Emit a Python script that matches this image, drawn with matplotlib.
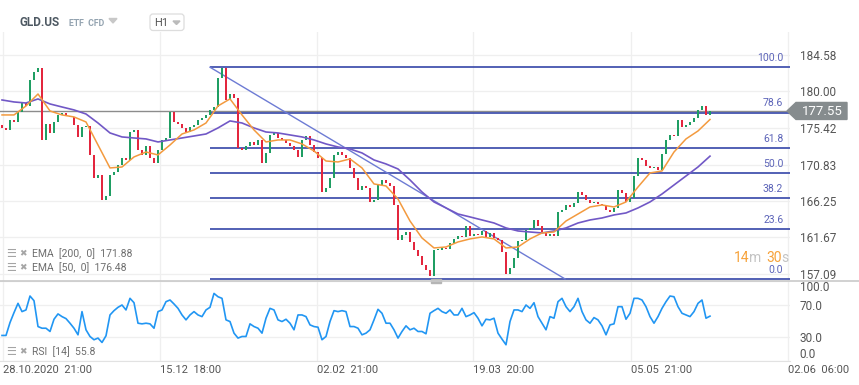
import numpy as np
import matplotlib
matplotlib.use("Agg")
import matplotlib.pyplot as plt
from matplotlib.patches import Polygon, FancyBboxPatch, Rectangle

plt.rcParams['font.family'] = ['Roboto', 'DejaVu Sans']

# hourly closes (GLD.US, H1)
closes = [175.42, 175.17, 176.42, 176.17, 177.42, 178.55, 178.18, 181.44, 182.44, 182.95,
          173.91, 175.92, 174.79, 176.17, 177.05, 177.30, 176.92, 176.80, 175.79, 174.29,
          175.54, 175.67, 172.03, 169.14, 169.52, 166.38, 166.88, 169.52, 169.89, 170.77,
          171.65, 171.40, 174.91, 175.17, 172.66, 172.03, 173.16, 171.65, 171.02, 172.66,
          173.91, 174.16, 177.42, 176.17, 175.92, 175.42, 174.91, 175.54, 175.79, 176.42,
          176.67, 177.05, 177.68, 178.05, 181.69, 182.95, 178.93, 179.68, 179.18, 172.91,
          172.66, 173.16, 173.66, 173.28, 173.91, 171.02, 172.28, 174.54, 174.79, 174.16,
          173.91, 173.53, 173.16, 172.66, 171.78, 173.91, 174.41, 173.28, 172.40, 171.65,
          167.38, 167.89, 169.14, 172.03, 172.40, 172.03, 171.65, 170.40, 169.14, 167.63,
          168.14, 167.89, 166.13, 166.38, 168.26, 168.89, 168.51, 168.14, 165.75, 161.36,
          161.99, 162.36, 161.11, 160.11, 159.35, 158.22, 157.60, 156.84, 160.11, 160.11,
          160.36, 160.23, 160.98, 161.49, 161.86, 161.74, 163.12, 161.86, 162.11, 161.99,
          162.49, 161.74, 162.24, 161.61, 161.36, 159.85, 157.09, 157.85, 159.10, 161.23,
          161.36, 162.62, 162.87, 163.87, 163.12, 162.36, 161.86, 162.11, 161.86, 164.87,
          165.12, 165.75, 165.50, 166.00, 167.38, 167.01, 166.38, 166.00, 166.13, 165.88,
          165.75, 165.12, 164.87, 165.38, 167.63, 167.26, 166.13, 166.63, 169.39, 171.65,
          171.40, 170.65, 170.40, 170.52, 170.15, 172.15, 173.91, 174.54, 174.41, 176.42,
          175.54, 175.79, 176.17, 176.67, 177.68, 178.18, 177.05, 177.55]
first_open = 175.80
last_price = 177.55

# EMA values, one every 3 bars
ema_step = 3
ema50 = [177.05, 177.05, 178.18, 179.68, 177.55, 177.05, 176.80, 176.17, 173.28, 170.40,
         170.52, 171.78, 172.40, 172.03, 173.28, 174.66, 175.17, 176.04, 178.18, 179.06,
         177.05, 175.17, 173.66, 173.91, 173.91, 173.41, 172.53, 171.27, 171.15, 171.53,
         170.40, 168.39, 168.14, 166.50, 163.74, 161.61, 160.36, 160.48, 161.11, 161.49,
         161.74, 161.49, 160.36, 160.48, 161.49, 162.24, 162.36, 163.74, 164.62, 165.50,
         165.75, 165.50, 166.13, 168.01, 169.77, 170.02, 172.40, 174.04, 175.04, 176.48]
ema200 = [178.93, 178.68, 178.55, 179.06, 178.43, 178.05, 177.68, 177.17, 176.04, 174.79,
          174.29, 174.16, 174.04, 173.66, 173.91, 174.16, 174.41, 174.66, 175.42, 176.30,
          176.04, 175.42, 174.91, 174.79, 174.54, 174.29, 173.91, 173.41, 173.03, 172.78,
          172.28, 171.40, 170.90, 170.27, 168.89, 167.38, 166.13, 165.38, 164.62, 164.25,
          163.87, 163.49, 162.87, 162.49, 162.36, 162.24, 162.49, 162.87, 163.49, 163.87,
          164.12, 164.50, 164.75, 165.38, 166.13, 167.13, 168.26, 169.39, 170.52, 171.88]

rsi = [31.5, 31.5, 47.7, 60.2, 71.9, 61.5, 63.6, 81.1, 75.2, 42.7,
       40.6, 40.6, 36.5, 51.9, 58.6, 55.2, 52.7, 46.9, 40.6, 32.3,
       61.5, 38.6, 30.2, 26.1, 28.2, 22.7, 31.1, 57.3, 62.7, 66.9,
       69.8, 63.6, 78.2, 72.7, 46.9, 46.1, 46.9, 46.1, 40.6, 61.5,
       63.6, 74.0, 76.1, 71.1, 65.6, 57.3, 51.1, 57.3, 61.5, 57.3,
       55.2, 63.6, 66.9, 84.4, 80.2, 78.2, 51.1, 49.0, 34.4, 28.2,
       30.2, 30.2, 46.1, 42.7, 40.6, 34.4, 53.2, 65.6, 63.6, 51.1,
       49.0, 51.9, 46.9, 38.6, 57.3, 57.3, 55.2, 44.8, 42.7, 41.9,
       26.1, 30.2, 49.0, 62.7, 61.5, 62.7, 61.5, 42.7, 42.7, 40.6,
       32.3, 34.4, 38.6, 51.1, 64.4, 59.4, 46.9, 46.9, 38.6, 28.2,
       36.5, 43.6, 38.6, 40.6, 36.5, 36.5, 33.6, 59.4, 62.7, 65.6,
       61.5, 59.4, 63.6, 57.3, 57.3, 65.6, 55.2, 57.3, 60.2, 53.2,
       43.6, 51.9, 51.1, 53.2, 34.4, 26.9, 19.8, 49.0, 63.6, 63.6,
       61.5, 69.8, 65.6, 72.7, 55.2, 46.9, 38.6, 55.2, 53.2, 74.0,
       78.2, 67.7, 61.5, 67.7, 78.2, 61.5, 51.1, 46.9, 54.0, 51.1,
       43.6, 32.3, 44.8, 46.1, 67.7, 67.7, 51.9, 59.4, 78.2, 78.2,
       76.1, 67.7, 55.2, 46.9, 55.2, 65.6, 74.0, 81.1, 80.2, 67.7,
       59.4, 57.3, 55.2, 61.5, 71.9, 76.1, 53.2, 55.8]

# fibonacci retracement and trend line
fib_high = 183.04
fib_low = 156.47
fib_levels = [100.0, 78.6, 61.8, 50.0, 38.2, 23.6, 0.0]
fib_start = 52
trend_x = [52, 140.75]
trend_y = [183.04, 156.47]

price_ticks = [184.58, 180.00, 175.42, 170.83, 166.25, 161.67, 157.09]
rsi_ticks = [100, 70, 30, 0]
time_pos = [0.25, 39.5, 78.75, 117.75, 157.25, 196.5]
time_labels = ["28.10.2020  21:00", "15.12  18:00", "02.02  21:00",
               "19.03  20:00", "05.05  21:00", "02.06  06:00"]

W, H = 859, 385
GREEN = '#1f9e63'
RED = '#e3263e'
FIB = '#3546a8'
LABEL = '#555555'
GRID = '#efefef'


def rect(x0, y0, x1, y1):
    return [x0 / W, 1 - y1 / H, (x1 - x0) / W, (y1 - y0) / H]


fig = plt.figure(figsize=(W / 100, H / 100), dpi=100)
ax = fig.add_axes(rect(0, 32, 790, 281))
ax2 = fig.add_axes(rect(0, 281, 790, 360.5))
XMAX = 197

# ---- price panel
c = np.array(closes)
o = np.array([first_open] + closes[:-1])
x = np.arange(len(c))
up = c >= o
body = np.maximum(np.abs(c - o), 0.12)
lo = np.minimum(c, o)
ax.bar(x[up], body[up], bottom=lo[up], width=0.5, color=GREEN, lw=0, zorder=4)
ax.bar(x[~up], body[~up], bottom=lo[~up], width=0.5, color=RED, lw=0, zorder=4)

ex = np.arange(len(ema50)) * ema_step
ax.plot(ex, ema200, color='#7158c6', lw=1.2, zorder=5)
ax.plot(ex, ema50, color='#f39a3e', lw=1.1, zorder=5)

ax.axhline(last_price, color='#8c8c8c', lw=1.0, zorder=2)
for lvl in fib_levels:
    p = fib_low + (fib_high - fib_low) * lvl / 100
    ax.hlines(p, fib_start, XMAX, color=FIB, lw=1.2, zorder=3)
    ax.annotate(f"{lvl:.1f}", xy=(195.3, p), xytext=(0, 6.5), textcoords='offset points',
                ha='right', va='center', fontsize=7.5, color='#5b63b8')
ax.plot(trend_x, trend_y, color='#6d7bd4', lw=1.0, zorder=3)

ax.set_xlim(-0.5, XMAX)
ax.set_ylim(156.21, 187.46)
ax.set_yticks(price_ticks)
ax.set_yticklabels([f"{t:.2f}" for t in price_ticks])
ax.yaxis.tick_right()
ax.set_xticks(time_pos)
ax.tick_params(axis='x', length=0, labelbottom=False)
ax.tick_params(axis='y', length=0, pad=7, labelsize=8.5, colors=LABEL)
ax.grid(True, color=GRID, lw=0.9)
ax.set_axisbelow(True)
for s in ax.spines.values():
    s.set_visible(False)

# ---- RSI panel
ax2.plot(np.arange(len(rsi)), rsi, color='#2196f3', lw=1.2)
ax2.set_xlim(-0.5, XMAX)
ax2.set_ylim(0, 100)
ax2.set_yticks(rsi_ticks)
ax2.set_yticklabels([f"{t:.1f}" for t in rsi_ticks])
ax2.yaxis.tick_right()
ax2.tick_params(axis='y', length=0, pad=7, labelsize=8.5, colors=LABEL)
labs = ax2.get_yticklabels()
labs[0].set_va('top')
labs[-1].set_va('bottom')
ax2.set_xticks(time_pos)
ax2.set_xticklabels(time_labels, ha='left')
ax2.tick_params(axis='x', length=0, pad=3, labelsize=8, colors=LABEL)
ax2.grid(True, color=GRID, lw=0.9)
ax2.set_axisbelow(True)
for s in ax2.spines.values():
    s.set_visible(False)
ax2.spines['bottom'].set_visible(True)
ax2.spines['bottom'].set_color('#e2e2e2')

# ---- overlay: header, legends, tag
ov = fig.add_axes([0, 0, 1, 1])
ov.set_xlim(0, W)
ov.set_ylim(H, 0)
ov.axis('off')

ov.text(20, 23, "GLD.US", fontsize=8.5, fontweight='bold', color='#4d5862', va='center')
ov.text(69, 23, "ETF  CFD", fontsize=6.3, fontweight='bold', color='#93a3b0', va='center')
ov.add_patch(Polygon([[109, 18.5], [117, 18.5], [113, 23]], closed=True, color='#c8c8c8'))
ov.add_patch(FancyBboxPatch((150, 14), 34, 16.5, boxstyle='round,pad=0,rounding_size=3',
                            fc='white', ec='#dddddd', lw=0.9))
ov.text(154, 23, "H1", fontsize=8, color='#555555', va='center')
ov.add_patch(Polygon([[173, 21], [180, 21], [176.5, 24.5]], closed=True, color='#bbbbbb'))

ov.plot([0, W], [281, 281], color='#c9c9c9', lw=1.2)
ov.add_patch(Rectangle((431, 279), 10, 4, color='#b5b5b5'))

leg_color = '#6e6e6e'
for yy, txt in [(254, "EMA  [200,  0]  171.88"), (268, "EMA  [50,  0]  176.48"),
                (352, "RSI  [14]  55.8")]:
    ov.text(6, yy, "\u2630", fontsize=8, color='#a5a5a5', va='center')
    ov.text(19.5, yy, "\u2716", fontsize=6.5, color='#a5a5a5', va='center')
    ov.text(32, yy, txt, fontsize=7.5, color=leg_color, va='center')

# countdown to next bar
ov.text(734, 258, "14", fontsize=10, color='#f7a23a', va='center')
ov.text(749.5, 258, "m", fontsize=10, color='#c4c4c4', va='center')
ov.text(766, 258, "30", fontsize=10, color='#f7a23a', va='center')
ov.text(781.5, 258, "s", fontsize=10, color='#c4c4c4', va='center')

ty = H - ax.transData.transform((0, last_price))[1]
ov.add_patch(Polygon([[787, ty], [796, ty - 8.5], [847, ty - 8.5], [847, ty + 8.5], [796, ty + 8.5]],
                     closed=True, color='#868c8e'))
ov.text(822, ty + 0.5, f"{last_price:.2f}", fontsize=9.5, color='white', ha='center', va='center')

fig.savefig("out.png", dpi=100)
